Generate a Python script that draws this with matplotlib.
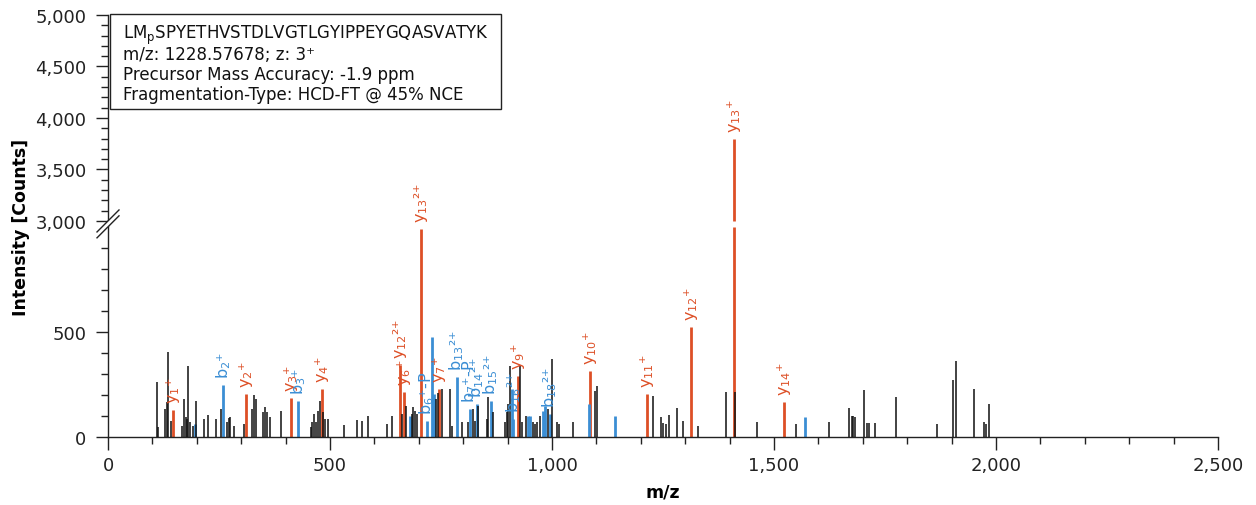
import numpy as np
import matplotlib
matplotlib.use('Agg')
import matplotlib.pyplot as plt
from matplotlib.transforms import IdentityTransform
from matplotlib.ticker import FixedLocator, FuncFormatter
from matplotlib.lines import Line2D
from matplotlib.patches import Polygon, Rectangle

# ---------------- data ----------------
other_mz = [109.7, 112.6, 129.1, 132.2, 135.2, 141.9, 166.0, 171.2, 175.0, 177.3,
            180.9, 184.7, 190.8, 198.2, 216.9, 225.9, 243.3, 254.6, 267.4, 271.9,
            274.8, 284.5, 307.1, 323.7, 328.9, 333.4, 349.9, 353.7, 358.9, 365.0,
            390.4, 456.6, 460.2, 464.1, 467.9, 472.4, 477.6, 485.0, 489.5, 496.3,
            531.6, 560.2, 571.5, 586.4, 627.8, 639.1, 661.6, 670.6, 684.1, 687.7,
            691.6, 696.8, 738.9, 742.7, 753.1, 770.4, 774.2, 796.8, 811.7, 822.9,
            826.8, 834.2, 853.1, 856.7, 866.6, 894.3, 898.2, 901.8, 905.6, 928.1,
            932.0, 941.0, 958.1, 961.9, 965.8, 973.2, 991.9, 999.6, 1010.8, 1016.7,
            1048.2, 1097.1, 1100.9, 1228.5, 1245.1, 1251.0, 1256.4, 1263.8, 1281.2, 1296.0,
            1329.8, 1391.5, 1412.5, 1462.6, 1549.9, 1624.9, 1670.0, 1675.3, 1678.9, 1683.5,
            1703.7, 1710.5, 1715.0, 1727.8, 1774.5, 1868.2, 1904.2, 1910.3, 1950.9, 1973.4,
            1977.9, 1983.9]
other_int = [260, 48, 133, 166, 404, 76, 54, 181, 95, 86,
             340, 71, 54, 173, 87, 105, 86, 133, 71, 90,
             94, 54, 62, 133, 202, 181, 117, 141, 117, 94,
             126, 46, 70, 110, 71, 126, 173, 117, 86, 86,
             55, 80, 78, 100, 60, 98, 110, 149, 110, 141,
             125, 110, 181, 210, 229, 229, 54, 71, 71, 133,
             78, 149, 86, 189, 117, 71, 117, 157, 337, 340,
             71, 102, 70, 62, 71, 102, 133, 371, 70, 62,
             73, 221, 244, 194, 94, 67, 62, 106, 137, 78,
             54, 216, 213, 73, 60, 70, 137, 102, 98, 94,
             222, 67, 67, 67, 190, 62, 272, 363, 229, 73,
             62, 157]

y_mz = [146.4, 310.9, 411.6, 481.4, 657.8, 666.8, 704.4, 745.0, 924.3,
        1085.8, 1214.9, 1312.7, 1410.2, 1522.9]
y_int = [128, 205, 184, 229, 342, 213, 990, 229, 289,
         316, 205, 522, 3800, 165]
# (ion number, charge superscript)
y_ions = [('1', '⁺'), ('2', '⁺'), ('3', '⁺'), ('4', '⁺'), ('12', '²⁺'), ('6', '⁺'),
          ('13', '²⁺'), ('7', '⁺'), ('9', '⁺'), ('10', '⁺'), ('11', '⁺'), ('12', '⁺'),
          ('13', '⁺'), ('14', '⁺')]

b_mz = [196.0, 259.7, 428.7, 680.3, 718.0, 729.2, 734.4, 785.5, 815.5, 830.6,
        862.8, 909.4, 913.0, 945.5, 950.7, 979.3, 984.5, 995.7, 1083.6, 1142.1,
        1570.2]
b_int = [62, 249, 173, 101, 78, 475, 205, 284, 133, 157,
         173, 229, 86, 102, 102, 125, 149, 110, 157, 98,
         94]
b_ions = [None, ('2', '⁺'), ('3', '⁺'), None, ('6', '⁺-P'), None, None, ('13', '²⁺'),
          ('7', '⁺-P'), ('14', '²⁺'), ('15', '²⁺'), None, ('16', '²⁺'), None, None,
          None, None, ('18', '²⁺'), None, None, None]

info_lines = [r'LM$\mathregular{_p}$SPYETHVSTDLVGTLGYIPPEYGQASVATYK',
              'm/z: 1228.57678; z: 3⁺',
              'Precursor Mass Accuracy: -1.9 ppm',
              'Fragmentation-Type: HCD-FT @ 45% NCE']

x_ticks = [0, 500, 1000, 1500, 2000, 2500]
y_ticks = [0, 500, 3000, 3500, 4000, 4500, 5000]

ORANGE = '#DD4F26'
BLUE = '#3B8ED4'
BLACK = '#111111'

# ---------------- broken y scale ----------------
BREAK_LO, BREAK_HI = 1000, 3000
GAP = 28.0
UPPER = 0.49


def fwd(y):
    y = np.asarray(y, dtype=float)
    return np.where(y <= BREAK_LO, y,
                    np.where(y < BREAK_HI,
                             BREAK_LO + (y - BREAK_LO) * GAP / (BREAK_HI - BREAK_LO),
                             BREAK_LO + GAP + (y - BREAK_HI) * UPPER))


def inv(f):
    f = np.asarray(f, dtype=float)
    return np.where(f <= BREAK_LO, f,
                    np.where(f < BREAK_LO + GAP,
                             BREAK_LO + (f - BREAK_LO) * (BREAK_HI - BREAK_LO) / GAP,
                             BREAK_HI + (f - BREAK_LO - GAP) / UPPER))


def ion_label(letter, ion):
    num, sup = ion
    return r'$\mathregular{' + letter + '_{' + num + '}}$' + sup


plt.rcParams['font.family'] = ['DejaVu Sans']
plt.rcParams['mathtext.fontset'] = 'dejavusans'

fig = plt.figure(figsize=(12.56, 5.06), dpi=100)
ax = fig.add_axes([108 / 1256, 68 / 506, 1110 / 1256, 422 / 506])
ax.set_yscale('function', functions=(fwd, inv))
ax.set_xlim(0, 2500)
ax.set_ylim(0, 5000)


def draw_peaks(mz, inten, color, lw, z, alpha=1.0):
    for m, v in zip(mz, inten):
        if v > BREAK_HI:
            ax.vlines(m, 0, BREAK_LO, color=color, lw=lw, zorder=z, alpha=alpha)
            ax.vlines(m, BREAK_HI, v, color=color, lw=lw, zorder=z, alpha=alpha)
        else:
            ax.vlines(m, 0, v, color=color, lw=lw, zorder=z, alpha=alpha)


draw_peaks(y_mz, y_int, ORANGE, 2.0, 2)
draw_peaks(b_mz, b_int, BLUE, 2.0, 2)
draw_peaks(other_mz, other_int, BLACK, 1.3, 3, alpha=0.85)

LABEL_OFFSET = 5
for m, v, ion in zip(y_mz, y_int, y_ions):
    ax.annotate(ion_label('y', ion), xy=(m, v), xytext=(0, LABEL_OFFSET),
                textcoords='offset points', rotation=90, ha='center', va='bottom',
                color=ORANGE, fontsize=11.5)
for m, v, ion in zip(b_mz, b_int, b_ions):
    if ion:
        ax.annotate(ion_label('b', ion), xy=(m, v), xytext=(0, LABEL_OFFSET),
                    textcoords='offset points', rotation=90, ha='center', va='bottom',
                    color=BLUE, fontsize=11.5)

# axes styling
for s in ('top', 'right'):
    ax.spines[s].set_visible(False)
for s in ('left', 'bottom'):
    ax.spines[s].set_color('#222222')
    ax.spines[s].set_linewidth(1.0)

ax.xaxis.set_major_locator(FixedLocator(x_ticks))
ax.xaxis.set_minor_locator(FixedLocator(np.arange(0, 2501, 100)))
ax.yaxis.set_major_locator(FixedLocator(y_ticks))
ax.yaxis.set_minor_locator(FixedLocator(list(range(100, 1000, 100)) + list(range(3100, 5000, 100))))
fmt = FuncFormatter(lambda v, p: f'{int(round(v)):,}')
ax.xaxis.set_major_formatter(fmt)
ax.yaxis.set_major_formatter(fmt)
ax.tick_params(axis='both', which='major', direction='out', length=9, width=1,
               labelsize=13, colors='#222222')
ax.tick_params(axis='x', which='major', pad=5)
ax.tick_params(axis='y', which='major', pad=6.5)
ax.tick_params(axis='both', which='minor', direction='out', length=5, width=1,
               colors='#222222')

ax.set_xlabel('m/z', fontsize=12.5, fontweight='bold', labelpad=6)
ax.set_ylabel('Intensity [Counts]', fontsize=12.5, fontweight='bold', labelpad=4)

# info box (pixel layout converted to axes fraction)
def ax_x(px):
    return (px - 108) / 1110.0


def ax_y(py):
    return (438 - py) / 422.0


ax.add_patch(Rectangle((ax_x(110), ax_y(110)), ax_x(501) - ax_x(110), ax_y(15) - ax_y(110),
                       transform=ax.transAxes, fc='white', ec='#222222', lw=1.0,
                       clip_on=False, zorder=9))
for line, base in zip(info_lines, (39, 59.5, 80, 100.5)):
    ax.text(ax_x(123), ax_y(base), line, transform=ax.transAxes, ha='left',
            va='baseline', fontsize=12, color='#111111', zorder=10)

# break marks on the y axis
pts = {}
for yv in (BREAK_LO, BREAK_HI):
    pts[yv] = ax.transData.transform((0, yv))
d = 11
(x0, ylo), (_, yhi) = pts[BREAK_LO], pts[BREAK_HI]
poly = Polygon([(x0 - d, ylo - d), (x0 + d, ylo + d), (x0 + d, yhi + d), (x0 - d, yhi - d)],
               closed=True, fc='white', ec='none', transform=IdentityTransform(),
               clip_on=False, zorder=6)
ax.add_patch(poly)
for yy in (ylo, yhi):
    ax.add_line(Line2D([x0 - d, x0 + d], [yy - d, yy + d], color='#222222', lw=1.0,
                       transform=IdentityTransform(), clip_on=False, zorder=7))

fig.savefig('out.png', dpi=100)
